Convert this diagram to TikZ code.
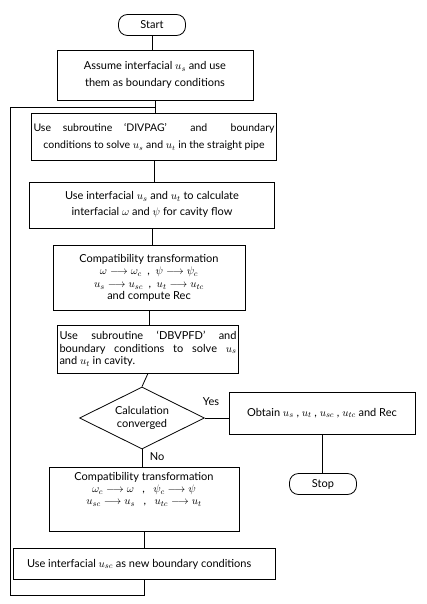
\documentclass[tikz,border=0pt]{standalone}
\usepackage{fontspec}
\setmainfont{Lato}
\usetikzlibrary{shapes.geometric}

\tikzset{
  blk/.style={draw, line width=0.8pt, inner xsep=2pt, inner ysep=2pt},
  term/.style={draw, line width=0.8pt, rounded corners=9pt, minimum width=67pt, minimum height=21pt, font=\fontsize{11}{12}\selectfont},
  test/.style={draw, line width=0.8pt, diamond, aspect=2, inner sep=0pt, minimum width=125pt, minimum height=62pt, align=flush center, font=\fontsize{11}{13}\selectfont},
  flow/.style={line width=0.8pt},
  lbl/.style={font=\fontsize{11}{12}\selectfont}
}

\begin{document}
\begin{tikzpicture}[x=1pt,y=-1pt]
        \useasboundingbox (0,0) rectangle (427,604);
        % main column
        \node[term] (start) at (152,25) {Start};
        \node[blk, minimum width=196pt, minimum height=50pt, text width=192pt, align=flush center, font=\fontsize{11}{17}\selectfont] (assume) at (155,75)
            {Assume interfacial $u_s$ and use\\them as boundary conditions};
        \node[blk, minimum width=245pt, minimum height=47pt, text width=241pt, align=flush center, font=\fontsize{10.5}{17}\selectfont] (divpag) at (154,137)
            {\makebox[\linewidth][s]{Use subroutine `DIVPAG' \ and \ boundary}\\\mbox{conditions to solve $u_s$ and $u_t$ in the straight pipe}};
        \node[blk, minimum width=245pt, minimum height=46pt, text width=241pt, align=flush center, font=\fontsize{11}{16}\selectfont] (interf) at (152,205)
            {Use interfacial $u_s$ and $u_t$ to calculate\\interfacial $\omega$ and $\psi$ for cavity flow};
        \node[blk, minimum width=192pt, minimum height=65pt, text width=188pt, align=flush center, font=\fontsize{11}{12.5}\selectfont] (compa) at (149,278)
            {Compatibility transformation\\$\omega\longrightarrow\omega_c$ \ , \ $\psi\longrightarrow\psi_c$\\$u_s\longrightarrow u_{sc}$ \ , \ $u_t\longrightarrow u_{tc}$\\and compute Rec};
        \node[blk, minimum width=181pt, minimum height=48pt, text width=177pt, align=justify, font=\fontsize{11}{12.5}\selectfont] (dbvpfd) at (148,349)
            {Use subroutine `DBVPFD' and\linebreak boundary conditions to solve $u_s$\linebreak and $u_t$ in cavity.};
        \node[test] (conv) at (142,418) {Calculation\\converged};
        \node[blk, minimum width=190pt, minimum height=64pt, text width=186pt, align=flush center, font=\fontsize{11}{12}\selectfont] (compb) at (144,499)
            {Compatibility transformation\\$\omega_c\longrightarrow\omega$ \ \ , \ \ $\psi_c\longrightarrow\psi$\\$u_{sc}\longrightarrow u_s$ \ \ , \ \ $u_{tc}\longrightarrow u_t$\\[9pt]~};
        \node[blk, minimum width=262pt, minimum height=31pt, text width=258pt, align=flush left, font=\fontsize{11}{12}\selectfont] (usenew) at (144,564)
            {\hspace{12pt}Use interfacial $u_{sc}$ as new boundary conditions};
        % right branch
        \node[blk, minimum width=186pt, minimum height=42pt, text width=182pt, align=flush center, font=\fontsize{11}{12}\selectfont] (obtain) at (322,413)
            {Obtain $u_s$ , $u_t$ , $u_{sc}$ , $u_{tc}$ and Rec};
        \node[term] (stop) at (323,484) {Stop};
        \node[lbl] (yes) at (211,402) {Yes};
        \node[lbl] (no) at (157,457) {No};
        % loop corners
        \coordinate (lb) at (10,595);
        \coordinate (lt) at (10,107);

        \draw[flow] (start.south) -- (start.south |- assume.north);
        \draw[flow] (assume.south) -- (assume.south |- divpag.north);
        \draw[flow] (divpag.south) -- (divpag.south |- interf.north);
        \draw[flow] (interf.south) -- (interf.south |- compa.north);
        \draw[flow] (compa.south) -- (compa.south |- dbvpfd.north);
        \draw[flow] (dbvpfd.south) -- (conv.north);
        \draw[flow] (conv.south) -- (conv.south |- compb.north);
        \draw[flow] (compb.south) -- (compb.south |- usenew.north);
        \draw[flow] (conv.east) -- (conv.east -| obtain.west);
        \draw[flow] (obtain.south) -- (obtain.south |- stop.north);
        \draw[flow] (usenew.south) -- (usenew.south |- lb) -- (lb) -- (lt) -- (lt -| assume.south);
    \end{tikzpicture}
\end{document}
